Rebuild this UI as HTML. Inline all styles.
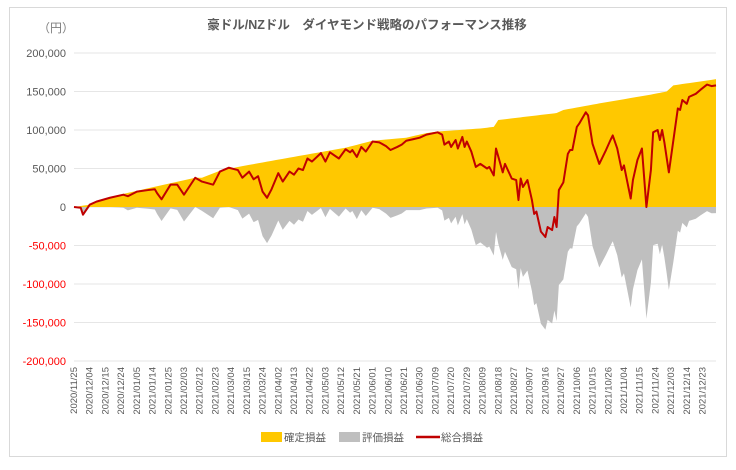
<!DOCTYPE html>
<html><head><meta charset="utf-8"><style>
body{margin:0;background:#fff;font-family:"Liberation Sans","Noto Sans CJK JP",sans-serif;}
svg text{font-family:"Liberation Sans","Noto Sans CJK JP",sans-serif;}
</style></head><body>
<svg id="chart" width="736" height="465" viewBox="0 0 736 465" xmlns="http://www.w3.org/2000/svg">
<rect x="9.5" y="7.5" width="717" height="449" fill="#fff" stroke="#d9d9d9"/>
<text x="367" y="29" text-anchor="middle" font-size="12.5" font-weight="bold" fill="#595959">豪ドル/NZドル　ダイヤモンド戦略のパフォーマンス推移</text>
<text x="38" y="32" font-size="12" fill="#7f7f7f">（円）</text>
<g id="grid"></g><g id="areas"></g><g id="line"></g><g id="yticks"></g><g id="xticks"></g>
<g>
<rect x="261" y="432" width="21" height="10" fill="#ffc800"/>
<text x="284" y="441" font-size="10.5" fill="#595959">確定損益</text>
<rect x="339" y="432" width="21" height="10" fill="#bfbfbf"/>
<text x="362" y="441" font-size="10.5" fill="#595959">評価損益</text>
<line x1="416" y1="437" x2="440" y2="437" stroke="#c00000" stroke-width="2.5"/>
<text x="441" y="441" font-size="10.5" fill="#595959">総合損益</text>
</g>
</svg>
<script>
const xLabels=["2020/11/25","2020/12/04","2020/12/15","2020/12/24","2021/01/05","2021/01/14","2021/01/25","2021/02/03","2021/02/12","2021/02/23","2021/03/04","2021/03/15","2021/03/24","2021/04/02","2021/04/13","2021/04/22","2021/05/03","2021/05/12","2021/05/21","2021/06/01","2021/06/10","2021/06/21","2021/06/30","2021/07/09","2021/07/20","2021/07/29","2021/08/09","2021/08/18","2021/08/27","2021/09/07","2021/09/16","2021/09/27","2021/10/06","2021/10/15","2021/10/26","2021/11/04","2021/11/15","2021/11/24","2021/12/03","2021/12/14","2021/12/23"];
const yTicks=[200000,150000,100000,50000,0,-50000,-100000,-150000,-200000];
const totalDays=[0,3,4,7,10,16,22,24,28,33,36,37,39,43,46,49,54,57,62,65,69,73,75,78,80,82,84,86,88,91,93,96,98,100,102,104,106,110,112,114,118,121,123,124,126,128,130,133,136,139,141,144,146,148,151,154,157,162,164,165,167,168,170,171,173,174,175,177,179,181,184,185,187,188,191,192,195,197,198,199,200,202,204,205,206,208,210,211,213,214,215,216,218,220,221,222,224,225,228,229,231,234,237,239,240,242,244,245,248,249,251,253,255,257,258,260,261,262,263,265,269,270,271,273,274,277,279,282,284,286];
const totalVals=[0,-1,-10,3,7,12,16,14,20,22,23,18,10,29,29,16,38,33,29,46,51,48,38,46,36,40,20,12,23,44,33,46,42,50,48,63,59,70,59,71,63,75,71,74,65,78,72,85,84,79,74,78,81,86,88,90,94,97,94,81,85,78,87,76,91,78,85,72,52,56,50,52,41,76,45,56,37,35,9,37,26,35,9,-9,-6,-32,-39,-26,-30,-13,-26,22,32,69,74,74,104,108,123,119,82,56,74,87,93,76,48,54,11,35,61,76,0,48,97,100,87,100,84,45,128,126,139,134,143,147,152,159,157,158];
const realizedDays=[0,7,22,34,54,57,65,73,90,121,133,148,157,162,181,187,189,215,218,233,243,257,264,267,286];
const realizedVals=[0,3,17,25,38,38,47,52,61,77,86,90,96,98,102,104,113,122,126,134,139,146,150,158,166];
const L=74,R=716,Y0=207,PX50=38.5,NDAYS=286;
const xs=d=>L+d*(R-L)/NDAYS;
const ys=v=>Y0-v/50*PX50;
const NS="http://www.w3.org/2000/svg";
function mk(tag,attrs,parent){const e=document.createElementNS(NS,tag);for(const k in attrs)e.setAttribute(k,attrs[k]);parent.appendChild(e);return e;}
function interp(ds,vs,d){for(let i=0;i<ds.length-1;i++){if(d>=ds[i]&&d<=ds[i+1]){const t=(d-ds[i])/(ds[i+1]-ds[i]||1);return vs[i]+t*(vs[i+1]-vs[i]);}}return vs[vs.length-1];}
const grid=document.getElementById('grid'),yt=document.getElementById('yticks');
yTicks.forEach(v=>{
 const g=mk('line',{x1:L,x2:R,y1:ys(v/1000),y2:ys(v/1000),stroke:'#e6e6e6','stroke-width':1},grid);
 
 
 const t=mk('text',{x:66,y:ys(v/1000)+4,'text-anchor':'end','font-size':11,fill:v<0?'#ff0000':'#595959'},yt);
 t.textContent=v.toLocaleString('en-US');
 
 
});
const xt=document.getElementById('xticks');
xLabels.forEach((s,i)=>{
 const x=xs(i*7)+3;
 const t=mk('text',{x:0,y:0,transform:`translate(${x},367) rotate(-90)`,'text-anchor':'end','font-size':9.5,fill:'#595959'},xt);
 t.textContent=s;
 
 
});
const areas=document.getElementById('areas');
let yp=`M${xs(0)},${ys(0)}`,gp=`M${xs(0)},${ys(0)}`;
const allDays=[...new Set([...totalDays,...realizedDays])].sort((a,b)=>a-b);
allDays.forEach(d=>{
 const r=interp(realizedDays,realizedVals,d),tv=interp(totalDays,totalVals,d);
 yp+=` L${xs(d)},${ys(r)}`;
 gp+=` L${xs(d)},${ys(Math.min(0,tv-r))}`;
});
yp+=` L${xs(NDAYS)},${ys(0)} Z`;gp+=` L${xs(NDAYS)},${ys(0)} Z`;
const ya=mk('path',{d:yp,fill:'#ffc800'},areas);


const ga=mk('path',{d:gp,fill:'#bfbfbf'},areas);


const lp=totalDays.map((d,i)=>(i?'L':'M')+xs(d)+','+ys(totalVals[i])).join(' ');
const ln=mk('path',{d:lp,fill:'none',stroke:'#c00000','stroke-width':2,'stroke-linejoin':'round'},document.getElementById('line'));


</script>
</body></html>
